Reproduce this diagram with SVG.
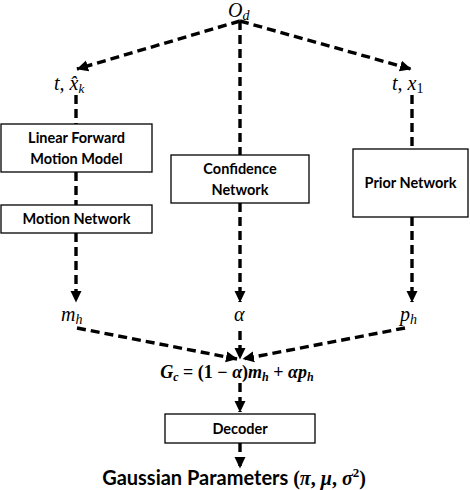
<svg xmlns="http://www.w3.org/2000/svg" width="470" height="490" viewBox="0 0 470 490">
<style>
.box{fill:#fff;stroke:#000;stroke-width:1.3}
.lbl{font-family:Lato,"Liberation Sans",sans-serif;font-weight:bold;font-size:14.5px;fill:#000;text-anchor:middle}
.math{font-family:"Liberation Serif","DejaVu Serif",serif;font-style:italic;font-size:20px;fill:#000}
.dash{fill:none;stroke:#000;stroke-width:3.4;stroke-dasharray:9 5}
</style>
<defs>
<marker id="ah" markerUnits="userSpaceOnUse" markerWidth="12" markerHeight="12" viewBox="0 0 12 12" refX="11" refY="6" orient="auto">
<path d="M0,0.5 L11.5,6 L0,11.5 Z" fill="#000"/>
</marker>
</defs>
<rect width="470" height="490" fill="#fff"/>
<g id="connectors">
<line class="dash" x1="240" y1="21" x2="77" y2="69" marker-end="url(#ah)"/>
<line class="dash" x1="240" y1="21" x2="411" y2="69" marker-end="url(#ah)"/>
<line class="dash" x1="240" y1="21" x2="240" y2="155"/>
<line class="dash" x1="76" y1="95" x2="76" y2="124"/>
<line class="dash" x1="76" y1="172" x2="76" y2="205"/>
<line class="dash" x1="76" y1="233" x2="76" y2="302" marker-end="url(#ah)"/>
<line class="dash" x1="240" y1="203" x2="240" y2="302" marker-end="url(#ah)"/>
<line class="dash" x1="412" y1="95" x2="412" y2="149"/>
<line class="dash" x1="412" y1="217" x2="412" y2="302" marker-end="url(#ah)"/>
<line class="dash" x1="77" y1="328" x2="237" y2="359" marker-end="url(#ah)"/>
<line class="dash" x1="240" y1="331" x2="240" y2="359" marker-end="url(#ah)"/>
<line class="dash" x1="405" y1="328" x2="243" y2="359" marker-end="url(#ah)"/>
<line class="dash" x1="240" y1="383" x2="240" y2="412" marker-end="url(#ah)"/>
<line class="dash" x1="240" y1="443" x2="240" y2="468" marker-end="url(#ah)"/>
</g>
<g id="od"><text class="math" x="228" y="17" font-size="19">O<tspan font-size="14" dy="3">d</tspan></text></g>
<g id="txk"><text class="math" x="54" y="90">t, x̂<tspan font-size="13" dy="3">k</tspan></text></g>
<g id="tx1"><text class="math" x="392" y="90">t, x<tspan font-size="14" dy="3" font-style="normal">1</tspan></text></g>
<g id="lfmm"><rect class="box" x="1" y="124" width="151" height="48"/>
<text class="lbl" x="76.5" y="143">Linear Forward</text><text class="lbl" x="76.5" y="164">Motion Model</text></g>
<g id="motion"><rect class="box" x="1" y="205" width="151" height="28"/>
<text class="lbl" x="76.5" y="224">Motion Network</text></g>
<g id="confidence"><rect class="box" x="171" y="155" width="138" height="48"/>
<text class="lbl" x="240" y="174">Confidence</text><text class="lbl" x="240" y="195">Network</text></g>
<g id="prior"><rect class="box" x="353" y="149" width="115" height="68"/>
<text class="lbl" x="410.5" y="188">Prior Network</text></g>
<g id="mh"><text class="math" x="61" y="321">m<tspan font-size="14" dy="3">h</tspan></text></g>
<g id="alpha"><text class="math" x="234" y="321">α</text></g>
<g id="ph"><text class="math" x="400" y="321">p<tspan font-size="14" dy="3">h</tspan></text></g>
<g id="formula"><text x="237" y="378" text-anchor="middle" font-family="'Liberation Serif','DejaVu Serif',serif" font-weight="bold" font-size="18" fill="#000"><tspan font-style="italic">G</tspan><tspan font-style="italic" font-size="12" dy="3">c</tspan><tspan dy="-3"> = (1 − </tspan><tspan font-style="italic">α</tspan><tspan>)</tspan><tspan font-style="italic">m</tspan><tspan font-style="italic" font-size="12" dy="3">h</tspan><tspan dy="-3"> + </tspan><tspan font-style="italic">αp</tspan><tspan font-style="italic" font-size="12" dy="3">h</tspan></text></g>
<g id="decoder"><rect class="box" x="165" y="414" width="150" height="29"/>
<text class="lbl" x="240" y="434">Decoder</text></g>
<g id="gaussian"><text x="234" y="485" text-anchor="middle" font-weight="bold" font-size="20" fill="#000" font-family="Lato,'Liberation Sans',sans-serif">Gaussian Parameters <tspan font-family="'Liberation Serif','DejaVu Serif',serif">(<tspan font-style="italic">π</tspan>, <tspan font-style="italic">μ</tspan>, <tspan font-style="italic">σ</tspan><tspan font-size="13" dy="-8">2</tspan><tspan dy="8">)</tspan></tspan></text></g>
</svg>
